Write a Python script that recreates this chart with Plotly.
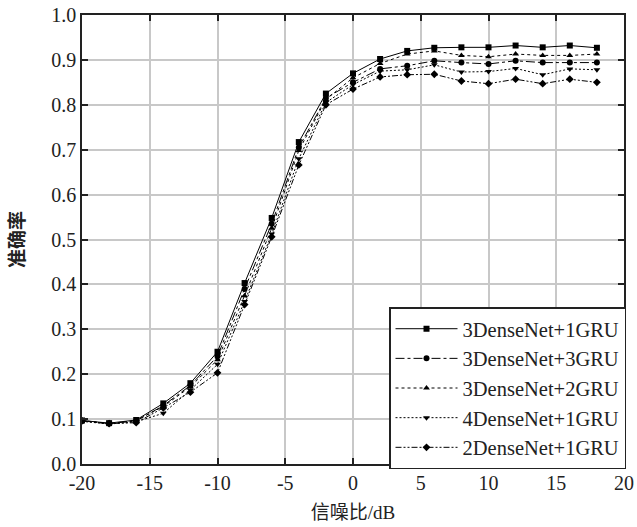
import plotly.graph_objects as go

snr = [-20, -18, -16, -14, -12, -10, -8, -6, -4, -2, 0, 2, 4, 6, 8, 10, 12, 14, 16, 18]

acc_3d1g = [0.097, 0.091, 0.098, 0.135, 0.180, 0.250, 0.403, 0.548, 0.717, 0.825, 0.870, 0.902, 0.920, 0.927, 0.928, 0.928, 0.932, 0.928, 0.932, 0.927]
acc_3d3g = [0.096, 0.090, 0.096, 0.130, 0.175, 0.240, 0.390, 0.535, 0.705, 0.815, 0.850, 0.880, 0.887, 0.898, 0.894, 0.891, 0.898, 0.894, 0.894, 0.894]
acc_3d2g = [0.097, 0.090, 0.097, 0.128, 0.172, 0.232, 0.375, 0.525, 0.698, 0.812, 0.860, 0.892, 0.913, 0.920, 0.910, 0.907, 0.913, 0.910, 0.910, 0.913]
acc_4d1g = [0.095, 0.089, 0.094, 0.113, 0.165, 0.222, 0.362, 0.512, 0.680, 0.805, 0.845, 0.875, 0.878, 0.889, 0.873, 0.874, 0.881, 0.867, 0.880, 0.878]
acc_2d1g = [0.096, 0.090, 0.092, 0.125, 0.160, 0.203, 0.355, 0.506, 0.666, 0.800, 0.835, 0.862, 0.867, 0.868, 0.853, 0.847, 0.857, 0.847, 0.857, 0.850]

names = ["3DenseNet+1GRU", "3DenseNet+3GRU", "3DenseNet+2GRU", "4DenseNet+1GRU", "2DenseNet+1GRU"]
series = [acc_3d1g, acc_3d3g, acc_3d2g, acc_4d1g, acc_2d1g]
dashes = ["solid", "dashdot", "dot", "2px,2px", "6px,2px,2px,2px,2px,2px"]
symbols = ["square", "circle", "triangle-up", "triangle-down", "diamond"]

x_ticks = [-20, -15, -10, -5, 0, 5, 10, 15, 20]
y_ticks = [0.0, 0.1, 0.2, 0.3, 0.4, 0.5, 0.6, 0.7, 0.8, 0.9, 1.0]

fig = go.Figure()
for nm, ys, d, s in zip(names, series, dashes, symbols):
    fig.add_trace(go.Scatter(
        x=snr, y=ys, name=nm, mode="lines+markers",
        line=dict(color="black", width=1, dash=d),
        marker=dict(symbol=s, size=6, color="black"),
    ))

serif = "Liberation Serif, Times New Roman, serif"
cjk = "Liberation Serif, Noto Sans CJK SC, serif"
axis_common = dict(
    showline=True, linecolor="#222", linewidth=1.5, mirror="ticks",
    ticks="inside", ticklen=6, tickcolor="#222", tickwidth=1.5,
    showgrid=True, gridcolor="#c8c8c8", gridwidth=1.5, zeroline=False,
    tickfont=dict(family=serif, size=20, color="#222"),
    automargin=False, ticklabeloverflow="allow",
)

fig.update_layout(
    width=637, height=527,
    margin=dict(l=82, r=11, t=15, b=63),
    plot_bgcolor="white", paper_bgcolor="white",
    xaxis=dict(range=[-20, 20], tickvals=x_ticks, ticktext=[str(v) for v in x_ticks],
               title=dict(text="信噪比/dB", font=dict(family=cjk, size=19, color="#222"), standoff=13),
               **axis_common),
    yaxis=dict(range=[0, 1.0], tickvals=y_ticks, ticktext=[f"{v:.1f}" for v in y_ticks],
               title=dict(text="<b>准确率</b>", font=dict(family=cjk, size=19, color="#222"), standoff=22),
               **axis_common),
    legend=dict(x=1.0037, y=-0.012, xanchor="right", yanchor="bottom",
                bgcolor="white", bordercolor="#222", borderwidth=1.5,
                font=dict(family=serif, size=20.5, color="#222"),
                tracegroupgap=0, itemwidth=62),
    showlegend=True,
)

fig.write_html("out.html", config={"displayModeBar": False},
               post_script="document.body.style.margin='0';")
